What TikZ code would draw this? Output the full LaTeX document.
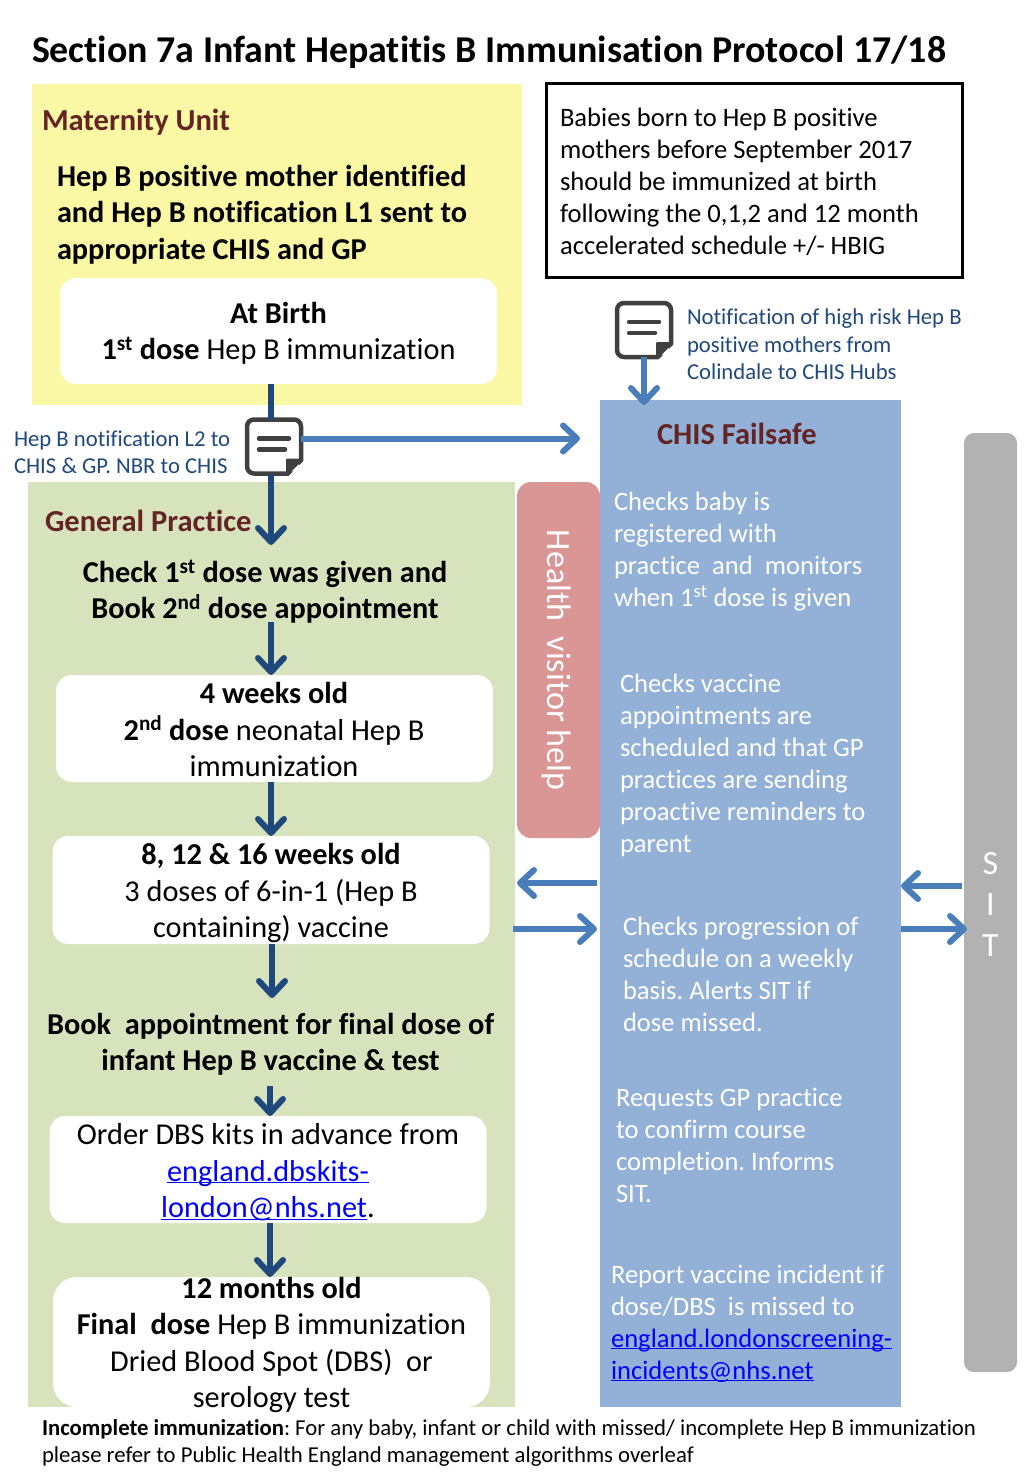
\documentclass[tikz,border=0pt]{standalone}
\usepackage{fontspec}
\setmainfont{Carlito}[Ligatures=NoCommon]
\usetikzlibrary{arrows.meta}
\definecolor{yellowP}{HTML}{FAF8A5}
\definecolor{greenP}{HTML}{D7E3BC}
\definecolor{pinkP}{HTML}{D99694}
\definecolor{blueP}{HTML}{93B1D7}
\definecolor{greyP}{HTML}{B2B2B2}
\definecolor{darkA}{HTML}{1F497D}
\definecolor{lightA}{HTML}{4A7EBB}
\definecolor{headT}{HTML}{632423}
\definecolor{iconC}{HTML}{404040}
\newcommand{\linkT}[1]{\textcolor{blue}{\underline{\smash{#1}}}}

\begin{document}
\frenchspacing
\begin{tikzpicture}
  [x=1pt,y=-1pt,inner sep=0pt,outer sep=0pt,
   whiteN/.style={fill=white,rounded corners=16pt,minimum width=437pt},
   headT/.style={anchor=west,text=headT,font=\fontsize{30.5}{34}\bfseries\selectfont},
   flowT/.style={align=flush center,font=\fontsize{30.3}{36.5}\selectfont},
   boldT/.style={align=flush center,font=\fontsize{30.3}{36.5}\bfseries\selectfont},
   failT/.style={anchor=west,align=left,text=white,font=\fontsize{26.6}{32}\selectfont},
   noteT/.style={anchor=west,align=left,text=darkA,font=\fontsize{22.7}{27.5}\selectfont},
   darkL/.style={line width=6pt,darkA,-{Straight Barb[length=14pt,width=26pt,line width=6pt,round]}},
   lightL/.style={line width=6pt,lightA,-{Straight Barb[length=14pt,width=26pt,line width=6pt,round]}},
   iconN/.style={draw=iconC,line width=4.5pt,fill=white,rounded corners=7pt,minimum size=54pt}]

  \useasboundingbox (0,0) rectangle (1024,1479);

  \node[anchor=west,font=\fontsize{37.9}{40}\bfseries\selectfont] (title) at (32,52)
    {Section 7a Infant Hepatitis B Immunisation Protocol 17/18};

  % panels
  \fill[yellowP] (32,84) rectangle (522,405);
  \fill[greenP]  (28,482) rectangle (515,1407);
  \fill[blueP]   (600,400) rectangle (901,1407);
  \fill[pinkP,rounded corners=14pt] (517,482) rectangle (600,838);
  \fill[greyP,rounded corners=10pt] (964,433) rectangle (1017,1372);

  \node[draw,line width=3pt,anchor=north west,minimum width=416pt,minimum height=193pt] (born) at (546,84) {};
  \node[anchor=west,align=left,font=\fontsize{26.6}{32}\selectfont] (bornT) at (560,182)
    {Babies born to Hep B positive\\mothers before September 2017\\should be immunized at birth\\following the 0,1,2 and 12 month\\accelerated schedule +/- HBIG};

  % maternity unit
  \node[headT] (matT) at (42,122) {Maternity Unit};
  \node[boldT,anchor=west,align=left] (matId) at (57,214.5)
    {Hep B positive mother identified\\and Hep B notification L1 sent to\\appropriate CHIS and GP};
  \node[whiteN,minimum height=106pt] (birth) at (278.5,331) {};
  \node[flowT] (birthT) at (278.5,333.5)
    {\textbf{At Birth}\\\textbf{1\textsuperscript{st} dose} Hep B immunization};

  % general practice
  \node[headT] (gpT) at (45,521) {General Practice};
  \node[boldT] (gpCheck) at (265,591.5)
    {Check 1\textsuperscript{st} dose was given and\\Book 2\textsuperscript{nd} dose appointment};
  \node[whiteN,minimum height=107pt] (four) at (274.5,728.5) {};
  \node[flowT] (fourT) at (274,729.5)
    {\textbf{4 weeks old}\\\textbf{2\textsuperscript{nd} dose} neonatal Hep B\\immunization};
  \node[whiteN,minimum height=108pt] (eight) at (271,890) {};
  \node[flowT] (eightT) at (271,893)
    {\textbf{8, 12 \& 16 weeks old}\\3 doses of 6-in-1 (Hep B\\containing) vaccine};
  \node[boldT] (book) at (270.5,1044)
    {Book\ \ appointment for final dose of\\infant Hep B vaccine \& test};
  \node[whiteN,minimum height=107pt] (order) at (268,1169.5) {};
  \node[flowT] (orderT) at (268,1171.5)
    {Order DBS kits in advance from\\\linkT{england.dbskits-}\\\linkT{london@nhs.net}.};
  \node[whiteN,minimum height=130pt,rounded corners=24pt] (twelve) at (271.5,1342) {};
  \node[flowT] (twelveT) at (271.5,1345)
    {\textbf{12 months old}\\\textbf{Final\ \ dose} Hep B immunization\\Dried Blood Spot (DBS)\ \ or\\serology test};

  % health visitor
  \node[rotate=-90,text=white,font=\fontsize{34}{36}\selectfont] (hv) at (557,660) {Health\ \ visitor help};

  % CHIS failsafe
  \node[headT] (chisT) at (657,434) {CHIS Failsafe};
  \node[failT] (fail1) at (614,551.5) {Checks baby is\\registered with\\practice\ \ and\ \ monitors\\when 1\textsuperscript{st} dose is given};
  \node[failT] (fail2) at (620,765) {Checks vaccine\\appointments are\\scheduled and that GP\\practices are sending\\proactive reminders to\\parent};
  \node[failT] (fail3) at (623,974.5) {Checks progression of\\schedule on a weekly\\basis. Alerts SIT if\\dose missed.};
  \node[failT] (fail4) at (616,1145) {Requests GP practice\\to confirm course\\completion. Informs\\SIT.};
  \node[failT] (fail5) at (611,1323) {Report vaccine incident if\\dose/DBS\ \ is missed to\\\linkT{england.londonscreening-}\\\linkT{incidents@nhs.net}};

  % SIT
  \node[align=center,text=white,font=\fontsize{34}{41}\selectfont] (sit) at (990.5,904) {S\\I\\T};

  % notes
  \node[noteT] (noteR) at (687,344.5) {Notification of high risk Hep B\\positive mothers from\\Colindale to CHIS Hubs};
  \node[noteT] (noteL) at (14,452.5) {Hep B notification L2 to\\CHIS \& GP. NBR to CHIS};
  \node[anchor=west,align=left,font=\fontsize{22.75}{27}\selectfont] (foot) at (42,1443)
    {\textbf{Incomplete immunization}: For any baby, infant or child with missed/ incomplete Hep B immunization\\please refer to Public Health England management algorithms overleaf};

  % free ends
  \coordinate (gpIn) at (271,545);
  \coordinate (gpOut) at (271,622);
  \coordinate (hubIn) at (644,405);
  \coordinate (l2End) at (580,438.5);
  \coordinate (bookIn) at (272,998);
  \coordinate (bookOut) at (270,1086);
  \coordinate (hvA) at (517,883);
  \coordinate (chisA) at (597,883);
  \coordinate (gpB) at (513,929);
  \coordinate (chisB) at (597,929);
  \coordinate (sitA) at (962,886);
  \coordinate (chisC) at (901,886);
  \coordinate (chisD) at (901,929);
  \coordinate (sitB) at (967,929);

  % note icons
  \node[iconN] (iconL) at (274,446.5) {};
  \node[iconN] (iconR) at (644,330) {};
  \foreach \ic in {iconL,iconR} {
    \draw[iconC,line width=4.5pt,line cap=round] ([xshift=-15pt,yshift=8pt]\ic.center) -- ([xshift=15pt,yshift=8pt]\ic.center);
    \draw[iconC,line width=4.5pt,line cap=round] ([xshift=-15pt,yshift=-3pt]\ic.center) -- ([xshift=11pt,yshift=-3pt]\ic.center);
    \fill[white] ([xshift=13pt,yshift=-31pt]\ic.center) -- ([xshift=31pt,yshift=-31pt]\ic.center) -- ([xshift=31pt,yshift=-13pt]\ic.center) -- cycle;
    \filldraw[iconC,line width=2pt,line join=round] ([xshift=13pt,yshift=-28pt]\ic.center) -- ([xshift=28pt,yshift=-13pt]\ic.center) -- ([xshift=13pt,yshift=-13pt]\ic.center) -- cycle;
  }

  \draw[line width=6pt,darkA] (birth.south -| gpIn) -- (iconL.north -| gpIn);
  \draw[darkL] (iconL.south -| gpIn) -- (gpIn);
  \draw[darkL] (gpOut) -- (four.north -| gpOut);
  \draw[darkL] (four.south -| gpIn) -- (eight.north -| gpIn);
  \draw[darkL] (eight.south -| bookIn) -- (bookIn);
  \draw[darkL] (bookOut) -- (order.north -| bookOut);
  \draw[darkL] (order.south -| bookOut) -- (twelve.north -| bookOut);

  \draw[lightL] (iconL.east |- l2End) -- (l2End);
  \draw[lightL] (iconR.south) -- (hubIn);
  \draw[lightL] (chisA) -- (hvA);
  \draw[lightL] (gpB) -- (chisB);
  \draw[lightL] (sitA) -- (chisC);
  \draw[lightL] (chisD) -- (sitB);

\end{tikzpicture}
\end{document}
